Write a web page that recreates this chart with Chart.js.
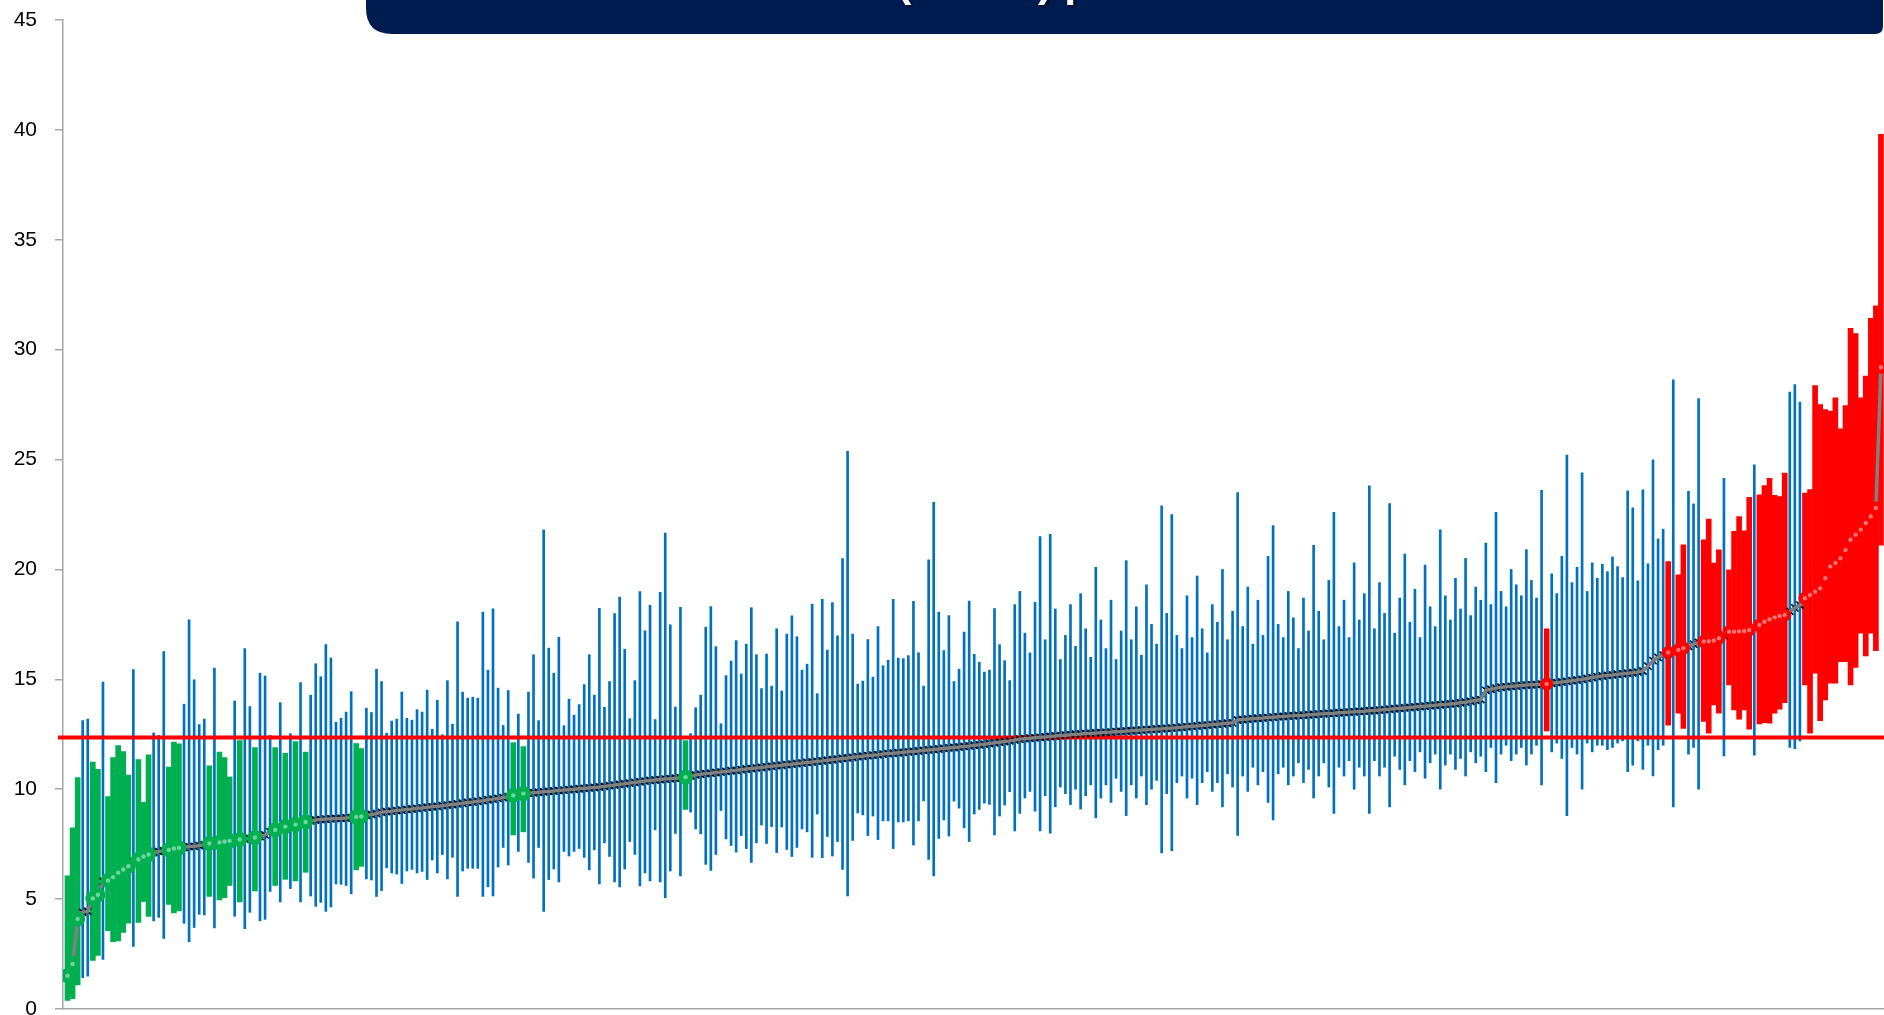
<!DOCTYPE html>
<html>
<head>
<meta charset="utf-8">
<script src="https://cdn.jsdelivr.net/npm/chart.js@4.4.1/dist/chart.umd.min.js"></script>
<style>
  html, body { margin: 0; padding: 0; background: #ffffff; overflow: hidden; }
  #wrap { position: relative; width: 1884px; height: 1015px; }
  canvas { display: block; }
</style>
</head>
<body>
<div id="wrap"><canvas id="chart" width="1884" height="1015"></canvas></div>
<script>
// Overall rate, drawn as the horizontal reference line
const AVERAGE = 12.35;

// Value axis
const Y_MIN = 0;
const Y_MAX = 45;
const Y_STEP = 5;

// Title (only its lower edge sits inside the page)
const TITLE = 'Standardised Rate (HSMR) per Trust';

// Point estimate for each unit, ranked from lowest to highest
const estimate = [
  1.51, 2.05, 4.1, 4.4, 4.45, 5.03, 5.2, 5.8, 5.85, 6.0,
  6.2, 6.35, 6.5, 6.67, 6.8, 6.94, 7.03, 7.12, 7.17, 7.2,
  7.24, 7.3, 7.33, 7.35, 7.39, 7.4, 7.44, 7.47, 7.53, 7.56,
  7.58, 7.62, 7.65, 7.69, 7.71, 7.73, 7.76, 7.8, 7.85, 7.92,
  8.06, 8.15, 8.24, 8.3, 8.33, 8.39, 8.46, 8.51, 8.56, 8.6,
  8.62, 8.64, 8.65, 8.67, 8.67, 8.69, 8.71, 8.74, 8.76, 8.81,
  8.85, 8.89,
  8.95, 8.98, 9.0, 9.03, 9.05, 9.08, 9.1, 9.13, 9.15, 9.18,
  9.2, 9.22, 9.25, 9.28, 9.3, 9.33, 9.36, 9.4, 9.42, 9.45,
  9.48, 9.52, 9.55, 9.58, 9.62, 9.66, 9.72, 9.76, 9.8, 9.82,
  9.84, 9.86, 9.88, 9.9, 9.92, 9.94, 9.96, 9.98, 10.0, 10.02,
  10.04, 10.06, 10.08, 10.1, 10.13, 10.16, 10.19, 10.22, 10.25, 10.28,
  10.31, 10.34, 10.37, 10.4, 10.42, 10.44, 10.46, 10.48, 10.5, 10.52,
  10.55, 10.6, 10.65,
  10.68, 10.71, 10.73, 10.76, 10.78, 10.81, 10.84, 10.86, 10.89, 10.92,
  10.94, 10.97, 10.99, 11.02, 11.04, 11.07, 11.09, 11.12, 11.14, 11.17,
  11.19, 11.22, 11.24, 11.27, 11.29, 11.32, 11.34, 11.37, 11.4, 11.42,
  11.45, 11.48, 11.5, 11.53, 11.55, 11.57, 11.6, 11.62, 11.64, 11.66,
  11.68, 11.7, 11.72, 11.74, 11.77, 11.79, 11.81, 11.83, 11.86, 11.88,
  11.9, 11.92, 11.95, 11.97, 12.0, 12.02, 12.05, 12.08, 12.11, 12.14,
  12.17, 12.2, 12.24,
  12.28, 12.3, 12.32, 12.34, 12.36, 12.38, 12.4, 12.42, 12.44, 12.46,
  12.48, 12.5, 12.51, 12.53, 12.54, 12.56, 12.57, 12.59, 12.6, 12.62,
  12.63, 12.65, 12.66, 12.68, 12.69, 12.71, 12.72, 12.74, 12.75, 12.77,
  12.78, 12.8, 12.82, 12.84, 12.86, 12.88, 12.9, 12.92, 12.94, 12.96,
  12.98, 13.0, 13.02, 13.15, 13.17, 13.19, 13.21, 13.23, 13.24, 13.26,
  13.28, 13.3, 13.31, 13.33, 13.34, 13.36, 13.37, 13.39, 13.4, 13.42,
  13.43, 13.45, 13.46, 13.48, 13.49, 13.51, 13.52, 13.54, 13.55, 13.57,
  13.58, 13.6, 13.62, 13.64, 13.66, 13.68, 13.7, 13.72, 13.74, 13.76,
  13.78, 13.8, 13.82, 13.84, 13.86, 13.88, 13.9, 13.93, 13.96, 14.0,
  14.04, 14.08, 14.5, 14.55, 14.6, 14.64, 14.66, 14.68, 14.7, 14.72,
  14.74, 14.75, 14.76, 14.78, 14.79, 14.82, 14.85, 14.88, 14.91, 14.94,
  14.97, 15.0, 15.04, 15.08, 15.12,
  15.15, 15.18, 15.2, 15.23, 15.25, 15.28, 15.3, 15.33, 15.38, 15.6,
  15.85, 16.0, 16.1,
  16.22, 16.28, 16.34, 16.42, 16.5, 16.6, 16.68, 16.72, 16.73, 16.77,
  16.87, 17.0, 17.17, 17.17, 17.18, 17.2, 17.25, 17.35, 17.47, 17.62,
  17.73, 17.82, 17.88, 17.93, 18.1, 18.25, 18.38, 18.69, 18.84, 18.99,
  19.14, 19.6, 20.13, 20.29, 20.51, 20.89, 21.35, 21.58, 21.81, 22.11,
  22.41, 22.8, 29.2
];

// Lower 95% limit for each unit
const lower = [
  0.39, 0.47, 1.1, 1.42, 1.49, 2.21, 2.44, 2.26, 3.56, 3.06,
  3.1, 3.49, 3.9, 2.85, 3.94, 4.89, 4.21, 4.01, 4.17, 3.21,
  4.76, 4.37, 4.46, 3.9, 3.06, 3.71, 4.31, 4.28, 5.12, 3.69,
  4.96, 5.06, 5.62, 4.22, 4.87, 3.65, 4.4, 5.37, 4.01, 4.08,
  5.35, 5.62, 4.87, 5.9, 5.48, 5.83, 4.87, 6.22, 5.14, 4.67,
  4.85, 4.44, 4.64, 5.69, 5.67, 5.62, 5.24, 6.33, 6.49, 5.92,
  5.87, 5.12,
  5.39, 6.42, 6.19, 6.14, 5.71, 6.28, 6.35, 6.19, 6.26, 5.89,
  6.78, 6.19, 7.03, 5.92, 6.9, 5.12, 6.28, 6.4, 6.4, 6.4,
  5.12, 5.56, 5.15, 6.46, 7.35, 6.55, 7.92, 7.17, 8.06, 6.67,
  5.96, 7.35, 4.44, 5.89, 6.37, 5.78, 7.17, 6.96, 7.17, 7.3,
  6.9, 6.33, 7.24, 5.69, 7.56, 6.94, 5.78, 5.56, 6.37, 7.62,
  7.03, 5.6, 6.19, 5.83, 8.15, 5.78, 5.06, 6.28, 7.99, 6.06,
  9.08, 8.96, 8.19,
  7.97, 6.58, 6.31, 7.03, 9.03, 7.74, 7.44, 7.14, 7.89, 7.3,
  6.67, 7.56, 8.37, 7.53, 8.3, 7.12, 8.28, 7.26, 6.94, 7.35,
  8.19, 8.06, 6.9, 8.87, 6.89, 7.85, 6.96, 7.62, 6.35, 5.15,
  7.67, 8.92, 8.83, 7.89, 8.78, 7.71, 8.56, 8.56, 7.3, 8.51,
  8.51, 8.56, 7.46, 8.56, 9.47, 6.81, 6.06, 7.76, 8.6, 7.87,
  9.46, 9.14, 8.24, 7.62, 8.87, 9.08, 9.37, 9.31, 7.92, 8.78,
  9.28, 9.89, 8.1,
  8.9, 9.6, 9.9, 9.0, 8.1, 9.7, 8.0, 9.2, 10.1, 9.8,
  9.3, 10.0, 9.1, 9.7, 10.2, 8.7, 9.6, 10.2, 9.4, 10.5,
  9.9, 8.8, 10.2, 9.6, 10.6, 9.3, 10.0, 10.4, 7.1, 9.8,
  7.2, 10.3, 10.6, 9.6, 10.5, 9.3, 10.3, 10.8, 9.9, 10.3,
  9.2, 10.7, 10.1, 7.9, 10.6, 9.9, 11.0, 10.2, 10.8, 9.4,
  8.6, 10.7, 11.0, 10.2, 10.6, 11.2, 10.3, 10.9, 9.6, 10.6,
  11.2, 10.1, 8.9, 11.0, 10.6, 11.3, 10.0, 11.0, 10.6, 8.9,
  11.3, 10.6, 11.0, 9.2, 11.5, 10.9, 10.2, 11.3, 10.8, 11.7,
  10.5, 11.2, 11.6, 10.0, 11.1, 11.6, 10.9, 11.4, 10.6, 11.7,
  11.2, 11.5, 10.8, 11.9, 10.3, 11.6, 12.0, 11.3, 11.6, 11.9,
  11.1, 11.6, 12.0, 10.2, 12.65, 11.7, 12.1, 11.4, 8.8, 11.9,
  11.6, 10.0, 12.1, 11.7, 12.0,
  12.0, 11.8, 11.9, 12.1, 12.2, 10.8, 11.1, 12.2, 10.9, 12.0,
  10.6, 11.8, 12.0,
  12.91, 9.2, 13.46, 12.77, 11.6, 11.9, 10.0, 13.08, 12.55, 13.84,
  13.46, 11.52, 14.75, 13.61, 13.19, 13.61, 12.73, 11.55, 12.97, 13.03,
  13.0, 13.46, 13.64, 13.94, 11.9, 11.85, 12.2, 14.75, 12.55, 15.28,
  13.12, 14.06, 14.82, 14.82, 15.8, 15.8, 14.75, 15.54, 17.1, 16.07,
  17.1, 16.3, 21.11
];

// Upper 95% limit for each unit
const upper = [
  6.06, 8.24, 10.53, 13.12, 13.19, 11.24, 10.9, 14.87, 9.67, 11.44,
  11.99, 11.71, 10.64, 15.44, 11.35, 9.4, 11.56, 12.56, 12.45, 16.26,
  11.01, 12.14, 12.06, 13.87, 17.71, 14.98, 12.94, 13.19, 11.06, 15.51,
  11.69, 11.44, 10.56, 14.01, 12.21, 16.4, 13.76, 11.89, 15.28, 15.15,
  12.45, 11.89, 13.94, 11.64, 12.53, 12.17, 14.85, 11.69, 14.28, 15.71,
  15.12, 16.58, 15.97, 13.05, 13.23, 13.51, 14.44, 12.08, 11.85, 13.69,
  13.49, 15.46,
  14.9, 12.55, 13.1, 13.19, 14.42, 13.23, 13.14, 13.62, 13.51, 14.51,
  12.73, 14.05, 12.48, 14.94, 12.96, 17.62, 14.42, 14.14, 14.19, 14.14,
  18.06, 15.42, 18.21, 14.6, 12.9, 14.49, 12.12, 13.42, 11.94, 14.42,
  16.12, 13.12, 21.8, 16.42, 15.28, 16.92, 12.89, 14.1, 13.37, 13.85,
  14.76, 16.12, 14.28, 18.23, 13.73, 14.9, 17.99, 18.74, 16.37, 13.21,
  14.94, 18.99, 17.21, 18.37, 13.17, 18.96, 21.65, 17.48, 13.74, 18.28,
  12.21, 12.53, 13.71,
  14.28, 17.37, 18.31, 16.49, 12.98, 15.17, 15.83, 16.76, 15.24, 16.6,
  18.26, 16.12, 14.58, 16.15, 14.69, 17.3, 14.47, 17.06, 17.89, 16.94,
  15.42, 15.69, 18.42, 14.35, 18.64, 16.33, 18.49, 16.98, 20.49, 25.37,
  17.06, 14.78, 14.92, 16.81, 15.1, 17.4, 15.62, 15.87, 18.64, 15.97,
  15.94, 16.08, 18.55, 16.21, 14.69, 20.44, 23.05, 18.06, 16.31, 17.9,
  14.9, 15.46, 17.15, 18.56, 16.14, 15.78, 15.33, 15.42, 18.22, 16.58,
  15.85, 14.94, 18.4,
  19.0, 17.1, 16.2, 18.5, 21.5, 16.8, 21.6, 18.2, 15.9, 17.0,
  18.4, 16.5, 18.9, 17.3, 16.0, 20.1, 17.7, 16.4, 18.6, 15.9,
  17.2, 20.4, 16.8, 18.3, 16.1, 19.3, 17.5, 16.6, 22.9, 18.0,
  22.5, 17.0, 16.4, 18.8, 16.9, 19.7, 17.3, 16.2, 18.4, 17.6,
  20.0, 16.8, 18.1, 23.5, 17.4, 19.2, 16.6, 18.6, 17.0, 20.6,
  22.0, 17.5, 16.9, 19.0, 17.8, 16.4, 18.7, 17.2, 21.1, 18.1,
  16.8, 19.5, 22.6, 17.4, 18.6, 16.9, 20.3, 17.7, 18.9, 23.8,
  17.3, 19.4, 18.0, 23.0, 17.1, 18.7, 20.7, 17.6, 19.1, 16.9,
  20.2, 18.3, 17.4, 21.8, 18.8, 17.7, 19.6, 18.2, 20.5, 17.9,
  19.2, 18.6, 21.2, 18.4, 22.6, 19.0, 18.3, 20.0, 19.3, 18.8,
  20.9, 19.5, 18.7, 23.6, 17.3, 19.8, 18.9, 20.6, 25.2, 19.4,
  20.1, 24.4, 19.0, 20.3, 19.6,
  20.24, 19.9, 20.57, 20.13, 19.63, 23.58, 22.8, 19.48, 23.62, 20.26,
  24.99, 21.39, 21.83,
  20.36, 28.63, 19.76, 21.12, 23.55, 22.98, 27.77, 21.35, 22.29, 20.29,
  20.89, 24.15, 19.98, 21.73, 22.41, 21.76, 23.28, 24.76, 23.4, 23.82,
  24.15, 23.37, 23.32, 24.38, 28.07, 28.41, 27.62, 23.48, 23.63, 28.37,
  27.5, 27.27, 27.2, 27.81, 26.4, 27.46, 30.97, 30.73, 27.81, 28.8,
  31.43, 32.0, 39.8
];

// Colours for units below, within and above the overall rate
const COLOR_LOW = '#00B050';
const COLOR_MID = '#0070C0';
const COLOR_HIGH = '#FF0000';

// Marker sizes (pixels)
const LOW_MARKER_R = 7.5;
const HIGH_MARKER_R = 6.5;
const CROSS_HALF = 3.6;

// ---- build the series ----
const units = estimate.map((e, i) => ({ x: i + 1, est: e, lo: lower[i], hi: upper[i] }));
const bandOf = u => (u.hi < AVERAGE ? 'low' : (u.lo > AVERAGE ? 'high' : 'mid'));
units.forEach(u => { u.band = bandOf(u); });
const barsFor = band => units.filter(u => u.band === band).map(u => ({ x: u.x, y: [u.lo, u.hi] }));
const chainPoints = () => units.map(u => ({ x: u.x, y: u.est }));

// Overall-rate line and the black cross markers, painted after the interval bars
// and before the grey line that joins the estimates
const estimateLayer = {
  id: 'estimateLayer',
  afterDatasetDraw(chart, args) {
    if (args.index !== 2) return;
    const { ctx, chartArea, scales } = chart;
    const py = scales.y.getPixelForValue(AVERAGE);
    ctx.save();
    ctx.strokeStyle = '#FF0000';
    ctx.lineWidth = 4;
    ctx.beginPath();
    ctx.moveTo(chartArea.left - 5, py);
    ctx.lineTo(chartArea.right, py);
    ctx.stroke();

    ctx.beginPath();
    ctx.rect(chartArea.left, chartArea.top, chartArea.right - chartArea.left, chartArea.bottom - chartArea.top);
    ctx.clip();
    ctx.strokeStyle = '#000000';
    ctx.lineWidth = 1.6;
    ctx.beginPath();
    units.forEach(u => {
      const cx = scales.x.getPixelForValue(u.x);
      const cy = scales.y.getPixelForValue(u.est);
      ctx.moveTo(cx - CROSS_HALF, cy - CROSS_HALF);
      ctx.lineTo(cx + CROSS_HALF, cy + CROSS_HALF);
      ctx.moveTo(cx + CROSS_HALF, cy - CROSS_HALF);
      ctx.lineTo(cx - CROSS_HALF, cy + CROSS_HALF);
    });
    ctx.stroke();
    ctx.restore();
  },
  // flagged units: round coloured markers with a pale centre, on top of everything
  afterDatasetsDraw(chart) {
    const { ctx, chartArea, scales } = chart;
    ctx.save();
    ctx.beginPath();
    ctx.rect(chartArea.left, chartArea.top, chartArea.right - chartArea.left, chartArea.bottom - chartArea.top);
    ctx.clip();
    const flagged = units.filter(u => u.band !== 'mid');
    flagged.forEach(u => {
      const cx = scales.x.getPixelForValue(u.x);
      const cy = scales.y.getPixelForValue(u.est);
      ctx.fillStyle = u.band === 'low' ? COLOR_LOW : COLOR_HIGH;
      ctx.beginPath();
      ctx.arc(cx, cy, u.band === 'low' ? LOW_MARKER_R : HIGH_MARKER_R, 0, Math.PI * 2);
      ctx.fill();
    });
    ctx.fillStyle = 'rgba(255,255,255,0.45)';
    flagged.forEach(u => {
      const cx = scales.x.getPixelForValue(u.x);
      const cy = scales.y.getPixelForValue(u.est);
      ctx.beginPath();
      ctx.arc(cx, cy, 2.2, 0, Math.PI * 2);
      ctx.fill();
    });
    ctx.restore();
  }
};

// Navy title banner across the top
const titleBanner = {
  id: 'titleBanner',
  afterDraw(chart) {
    const ctx = chart.ctx;
    const left = 366, right = 1883, top = -60, bottom = 34;
    const rBL = 26, rBR = 8;
    ctx.save();
    ctx.fillStyle = '#001B50';
    ctx.beginPath();
    ctx.moveTo(left, top);
    ctx.lineTo(right, top);
    ctx.lineTo(right, bottom - rBR);
    ctx.quadraticCurveTo(right, bottom, right - rBR, bottom);
    ctx.lineTo(left + rBL, bottom);
    ctx.quadraticCurveTo(left, bottom, left, bottom - rBL);
    ctx.closePath();
    ctx.fill();

    ctx.font = 'bold 43px "Liberation Sans", Arial, sans-serif';
    ctx.textBaseline = 'alphabetic';
    ctx.textAlign = 'left';
    const open = TITLE.indexOf('(');
    const startX = 897 - ctx.measureText(TITLE.slice(0, open)).width;
    ctx.shadowColor = 'rgba(0,0,0,0.6)';
    ctx.shadowOffsetX = 2;
    ctx.shadowOffsetY = 2;
    ctx.shadowBlur = 2;
    ctx.fillStyle = '#ffffff';
    ctx.fillText(TITLE, startX, -4);
    ctx.restore();
  }
};

new Chart(document.getElementById('chart'), {
  type: 'bar',
  data: {
    datasets: [
      // confidence intervals
      { type: 'bar', data: barsFor('mid'), backgroundColor: COLOR_MID, borderWidth: 0, barThickness: 2, grouped: false, order: 30 },
      { type: 'bar', data: barsFor('low'), backgroundColor: COLOR_LOW, borderWidth: 0, barThickness: 5, grouped: false, order: 29 },
      { type: 'bar', data: barsFor('high'), backgroundColor: COLOR_HIGH, borderWidth: 0, barThickness: 5, grouped: false, order: 28 },
      // grey line joining the estimates
      {
        type: 'line', data: chainPoints(), borderColor: '#808080', borderWidth: 3.5,
        pointRadius: 0, tension: 0, fill: false, order: 19
      }
    ]
  },
  options: {
    responsive: false,
    animation: false,
    devicePixelRatio: 1,
    events: [],
    layout: { autoPadding: false, padding: { top: 20, right: 0, bottom: 0, left: 0 } },
    plugins: { legend: { display: false }, tooltip: { enabled: false }, title: { display: false } },
    scales: {
      x: {
        type: 'linear', min: 0.11, max: 359.6, offset: false,
        ticks: { display: false },
        grid: { display: false, drawTicks: false },
        border: { display: true, color: '#a6a6a6', width: 1.5 },
        afterFit(s) { s.height = 6; s.paddingLeft = 0; s.paddingRight = 0; }
      },
      y: {
        min: Y_MIN, max: Y_MAX,
        ticks: {
          stepSize: Y_STEP, padding: 18, color: '#000000',
          font: { family: '"Liberation Sans", Arial, sans-serif', size: 21 }
        },
        grid: { drawOnChartArea: false, tickLength: 8, color: '#a6a6a6', lineWidth: 1.5 },
        border: { color: '#a6a6a6', width: 1.5 },
        afterFit(s) { s.width = 63; s.paddingTop = 0; s.paddingBottom = 0; }
      }
    }
  },
  plugins: [estimateLayer, titleBanner]
});
</script>
</body>
</html>
